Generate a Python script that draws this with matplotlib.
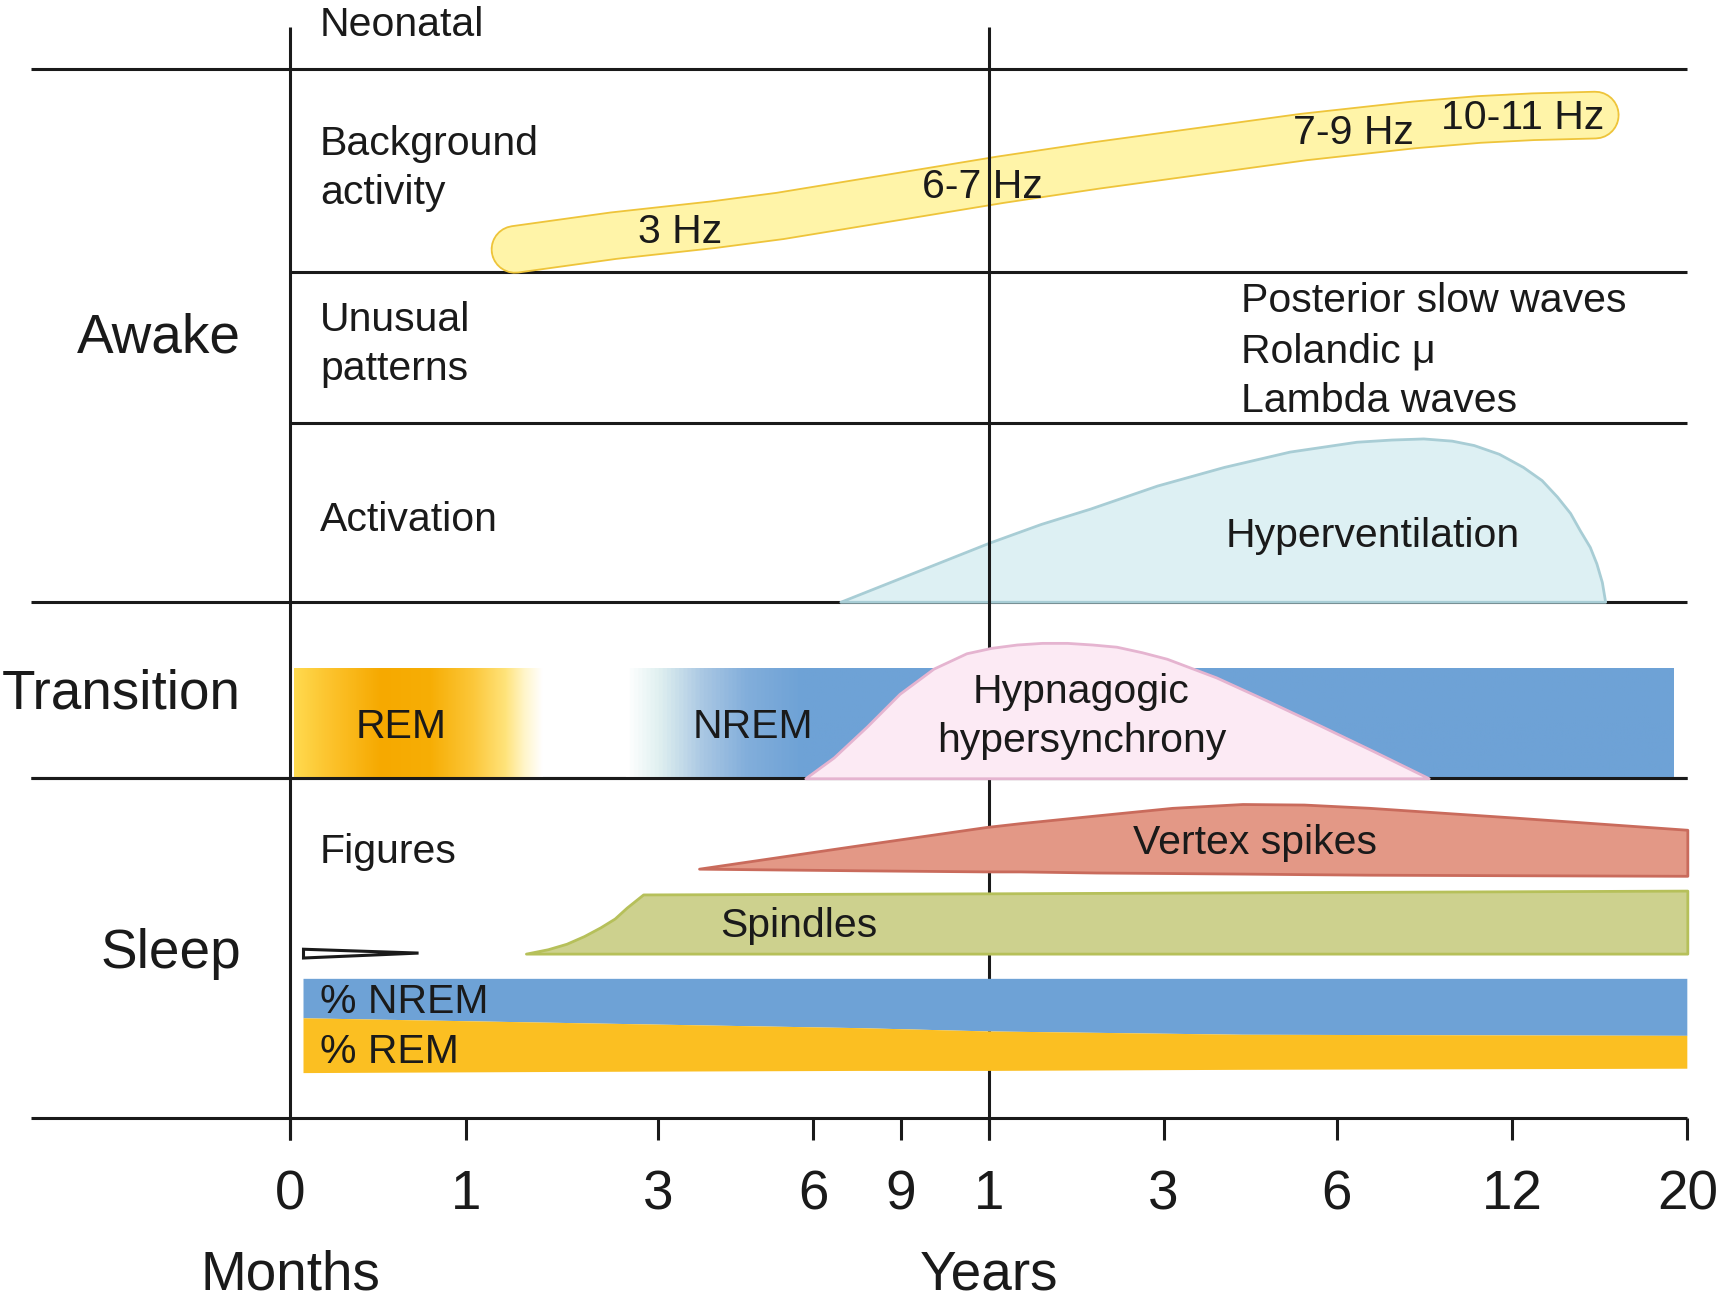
import numpy as np
import matplotlib.pyplot as plt
from matplotlib import patheffects
from matplotlib.colors import LinearSegmentedColormap

plt.rcParams['font.family'] = ['Liberation Sans', 'DejaVu Sans']

# drawing area (axis units)
W, H = 1568, 1186

# age axis
tick_pos = [265, 425, 601, 742, 822, 903, 1062, 1220, 1380, 1540]
tick_labels = ['0', '1', '3', '6', '9', '1', '3', '6', '12', '20']
unit_pos = [265, 903]
unit_labels = ['Months', 'Years']

# row boundaries
full_rows = [63, 549, 710, 1020]
inner_rows = [248, 386]
x_left, x_zero, x_right = 28, 265, 1540

# row labels
big_labels = ['Awake', 'Transition', 'Sleep']
big_label_y = [322, 646, 883]
row_labels = ['Neonatal', 'Background', 'activity', 'Unusual', 'patterns', 'Activation', 'Figures']
row_label_y = [33, 141, 186, 302, 347, 484, 787]

# background activity (centre line of the band)
bg_x = [470, 560, 651, 712, 773, 834, 913, 1000, 1095, 1190, 1290, 1350, 1399, 1456]
bg_y = [227.5, 215, 205, 197, 187, 177, 164, 151, 138, 125, 114, 109, 106.5, 105]
bg_labels = ['3 Hz', '6-7 Hz', '7-9 Hz', '10-11 Hz']
bg_label_x = [621, 897, 1235, 1390]
bg_label_y = [222, 181, 131, 118]

# unusual patterns
unusual = ['Posterior slow waves', 'Rolandic \u03bc', 'Lambda waves']
unusual_y = [285, 331, 376]

# hyperventilation
hv_x = [767, 835, 903, 950, 995, 1056, 1117, 1177, 1238, 1270, 1299, 1325, 1345, 1368, 1390, 1407, 1421, 1433, 1442, 1451, 1457, 1462, 1465]
hv_top = [549, 522, 495, 478, 464, 443, 426, 412, 403, 401, 400, 402, 406, 414, 426, 438, 453, 468, 484, 499, 514, 531, 549]

# transition bars
rem_span = (268, 495)
nrem_span = (571, 1527)
trans_top, trans_bottom = 610, 710

# hypnagogic hypersynchrony
hh_x = [735, 761, 791, 821, 852, 882, 905, 928, 951, 974, 997, 1019, 1042, 1065, 1110, 1156, 1205, 1255, 1304]
hh_top = [710, 691, 663, 633, 610, 596, 591, 588, 586.5, 586.5, 588, 590, 595, 601, 618, 639, 662, 686, 710]

# vertex spikes
vs_x = [638, 785, 900, 931, 1000, 1070, 1134, 1190, 1250, 1384, 1540]
vs_top = [792.5, 771, 754.5, 751, 744, 737, 733.5, 734, 737, 746, 757]
vs_bottom = [792.5, 794, 795, 795, 796, 796.5, 797, 797.5, 798, 798.5, 799]

# spindles
sp_x = [480, 500, 517, 533, 548, 561, 572, 587, 900, 1540]
sp_top = [870, 866, 861, 854, 846, 838, 828, 816, 815, 812.5]
sp_bottom = 870

# neonatal wedge
wedge_x = [277, 382, 277]
wedge_y = [866, 869.5, 874]

# % NREM / % REM
pct_x = [277, 500, 785, 903, 1134, 1540]
pct_top = 893
pct_split = [929, 933, 938, 941, 944, 945]
pct_bottom = [979, 978, 977, 977, 976, 975]

BIG = 39.5
MED = 29.5
LW = 2.2
INK = '#1a1a1a'

fig = plt.figure(figsize=(17.18, 13.0), dpi=100)
ax = fig.add_axes([0, 0, 1, 1])
ax.set_xlim(0, W)
ax.set_ylim(H, 0)
ax.axis('off')

# grid lines
ax.hlines(full_rows, x_left, x_right, color=INK, lw=LW, zorder=1.5)
ax.hlines(inner_rows, x_zero, x_right, color=INK, lw=LW, zorder=1.5)
ax.hlines(trans_bottom, x_left, x_right, color=INK, lw=LW, zorder=3.5)
ax.vlines([x_zero, 903], 25, 1040, color=INK, lw=LW, zorder=2)
ax.vlines(tick_pos, 1020, 1040, color=INK, lw=LW, zorder=2)

# background band
units_to_pt = (1718 / W) * 0.72
band_w = 41 * units_to_pt
ax.plot(bg_x, bg_y, color='#FFF4A8', lw=band_w, solid_capstyle='round',
        solid_joinstyle='round', zorder=1.8,
        path_effects=[patheffects.Stroke(linewidth=band_w + 2.6, foreground='#EEC43A'),
                      patheffects.Normal()])
for t, x, y in zip(bg_labels, bg_label_x, bg_label_y):
    ax.text(x, y, t, fontsize=MED, ha='center', va='baseline', color=INK, zorder=5)

# hyperventilation
ax.fill_between(hv_x, hv_top, full_rows[1], facecolor='#DDF0F3', edgecolor='#A8CDD5',
                lw=2, zorder=1.8, joinstyle='round')
ax.text(1253, 499, 'Hyperventilation', fontsize=MED, ha='center', va='baseline', color=INK, zorder=5)

for t, y in zip(unusual, unusual_y):
    ax.text(1133, y, t, fontsize=MED, ha='left', va='baseline', color=INK, zorder=5)

# transition gradients
rem_cmap = LinearSegmentedColormap.from_list('rem', [
    (0.0, '#FFDA4F'), (0.15, '#FCC22B'), (0.35, '#F6A900'), (0.55, '#F7AE05'),
    (0.72, '#FCC73A'), (0.85, '#FFE37A'), (0.93, '#FFF6CC'), (1.0, '#FFFFFF')])
nrem_cmap = LinearSegmentedColormap.from_list('nrem', [
    (0.0, '#FFFFFF'), (0.03, '#E0F0F0'), (0.072, '#A9C7E3'), (0.114, '#82AEDB'),
    (0.166, '#6EA2D6'), (1.0, '#6EA2D6')])
grad = np.linspace(0, 1, 512)[None, :]
ax.imshow(grad, cmap=rem_cmap, aspect='auto', extent=(rem_span[0], rem_span[1], trans_bottom, trans_top),
          zorder=3)
ax.imshow(grad, cmap=nrem_cmap, aspect='auto', extent=(nrem_span[0], nrem_span[1], trans_bottom, trans_top),
          zorder=3)
ax.text(366, 673, 'REM', fontsize=MED, ha='center', va='baseline', color=INK, zorder=5)
ax.text(687, 673, 'NREM', fontsize=MED, ha='center', va='baseline', color=INK, zorder=5)

ax.fill_between(hh_x, hh_top, trans_bottom, facecolor='#FCEAF4', edgecolor='#E5B4D0',
                lw=2, zorder=4, joinstyle='round')
ax.text(987, 641, 'Hypnagogic', fontsize=MED, ha='center', va='baseline', color=INK, zorder=5)
ax.text(987, 686, 'hypersynchrony', fontsize=MED, ha='center', va='baseline', color=INK, zorder=5)

# sleep figures
ax.fill_between(vs_x, vs_top, vs_bottom, facecolor='#E39886', edgecolor='#C96B5C', lw=2, zorder=3)
ax.text(1145, 779, 'Vertex spikes', fontsize=MED, ha='center', va='baseline', color=INK, zorder=5)
ax.fill_between(sp_x, sp_top, sp_bottom, facecolor='#CDD18E', edgecolor='#B6C05A', lw=2, zorder=3,
                joinstyle='round')
ax.text(729, 855, 'Spindles', fontsize=MED, ha='center', va='baseline', color=INK, zorder=5)
ax.fill(wedge_x, wedge_y, facecolor='white', edgecolor=INK, lw=2.2, zorder=3)

ax.fill_between(pct_x, pct_top, pct_split, facecolor='#6EA2D6', lw=0, zorder=3)
ax.fill_between(pct_x, pct_split, pct_bottom, facecolor='#FBBF22', lw=0, zorder=3)
ax.text(292, 924, '% NREM', fontsize=MED, ha='left', va='baseline', color=INK, zorder=5)
ax.text(292, 970, '% REM', fontsize=MED, ha='left', va='baseline', color=INK, zorder=5)

# labels
for t, y in zip(big_labels, big_label_y):
    ax.text(220, y, t, fontsize=BIG, ha='right', va='baseline', color=INK, zorder=5)
for t, y in zip(row_labels, row_label_y):
    ax.text(292, y, t, fontsize=MED, ha='left', va='baseline', color=INK, zorder=5)
for p, t in zip(tick_pos, tick_labels):
    ax.text(p, 1103, t, fontsize=BIG, ha='center', va='baseline', color=INK, zorder=5)
for p, t in zip(unit_pos, unit_labels):
    ax.text(p, 1176, t, fontsize=BIG, ha='center', va='baseline', color=INK, zorder=5)

fig.savefig('out.png', dpi=100, facecolor='white')
